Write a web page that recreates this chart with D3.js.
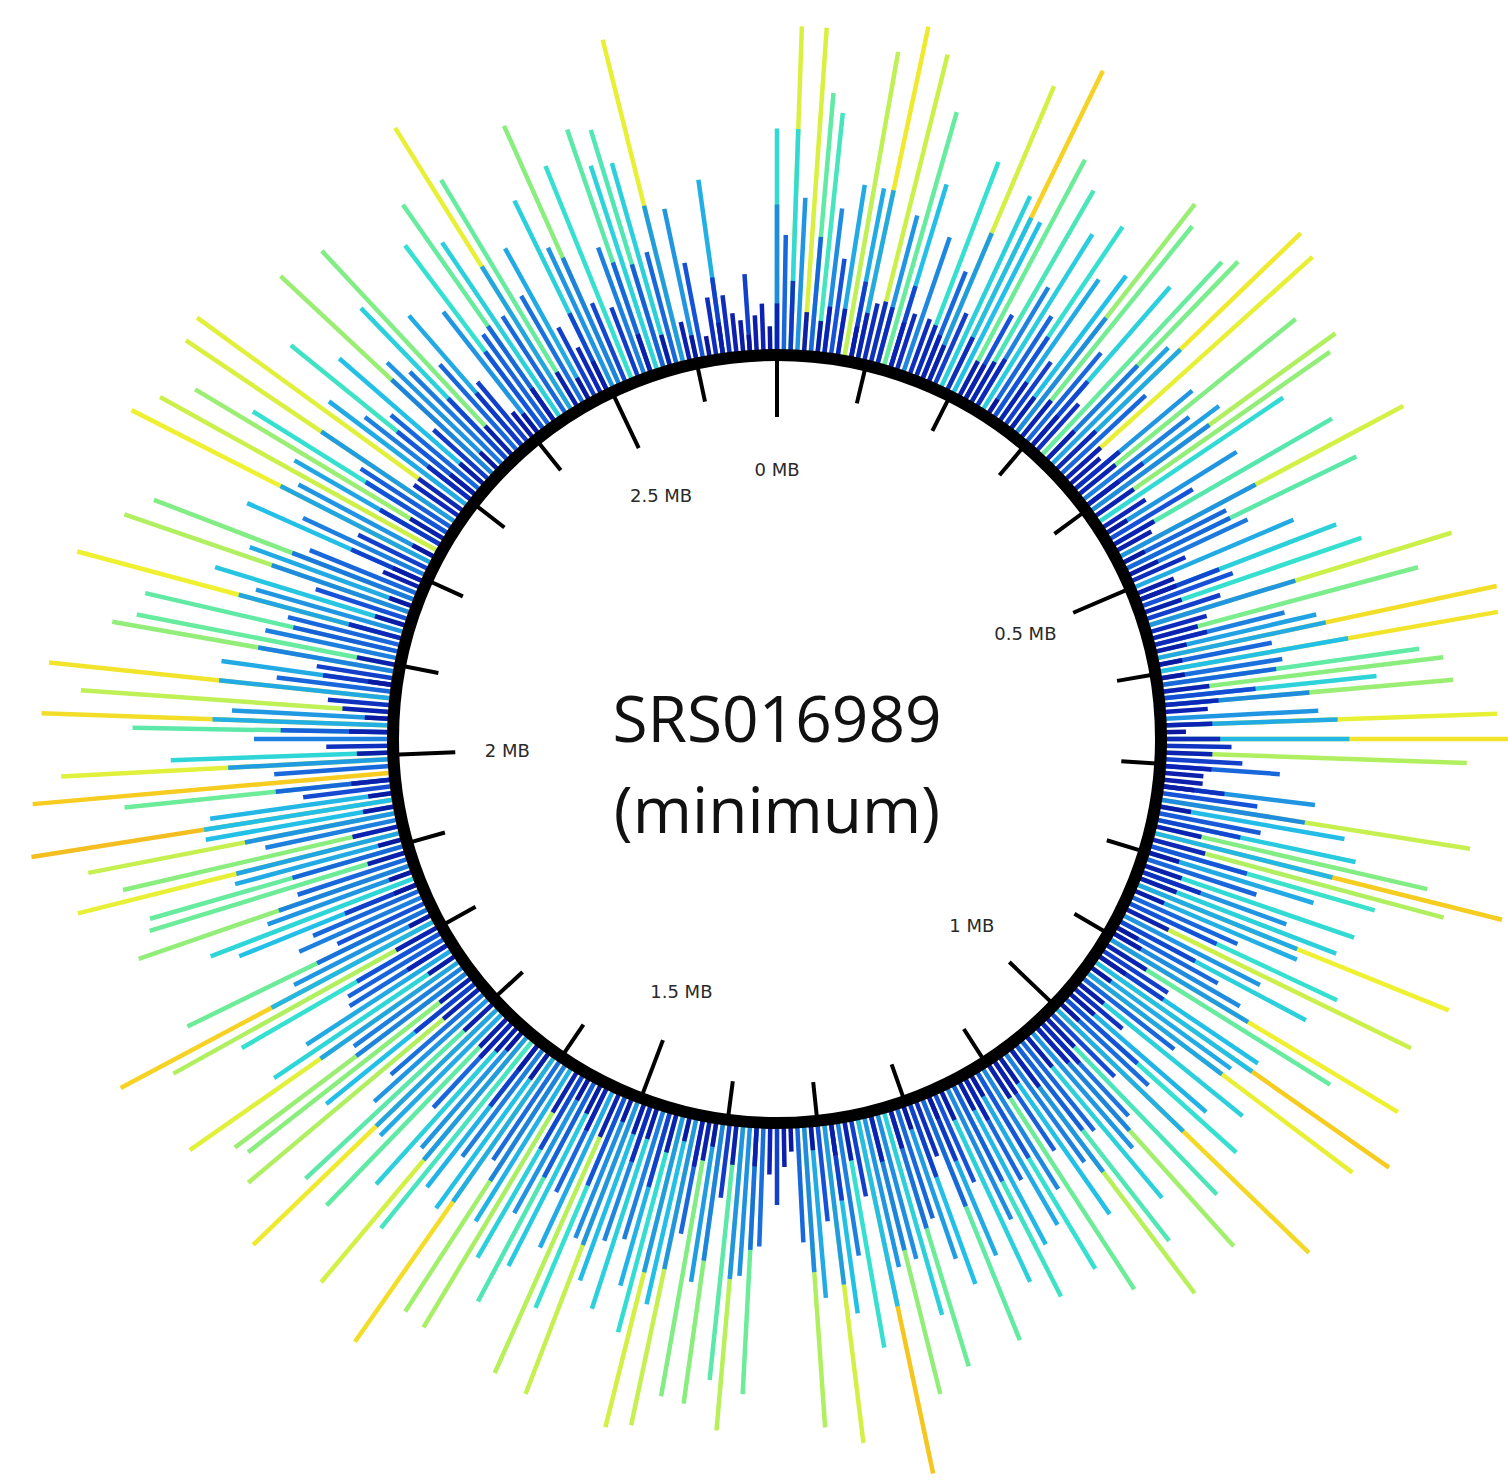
<!DOCTYPE html>
<html><head><meta charset="utf-8">
<script src="https://cdn.jsdelivr.net/npm/d3@7"></script>
<style>html,body{margin:0;padding:0;background:#fff;} svg{display:block}</style>
</head><body>
<svg id="chart" width="1508" height="1483"></svg>
<script>
// One value per angular bin (360 bins around the genome).
const depthLong = [
58,30,85,40,85,68,63,38,25,45,
81,45,89,15,83,40,69,50,15,37,
15,60,30,84,20,55,93,50,70,25,
64,36,54,30,60,45,20,50,76,71,
30,55,16,69,72,43,89,30,87,10,
40,73,35,43,79,75,58,13,40,25,
66,10,84,30,67,34,15,45,10,55,
25,60,20,83,15,72,35,43,91,30,
90,32,68,74,56,76,11,40,87,5,
90,17,79,20,30,10,10,40,25,82,
49,27,53,73,94,79,61,45,30,58,
40,55,88,46,30,60,83,40,55,30,
38,88,69,20,50,94,45,87,30,55,
16,47,60,31,92,23,64,33,77,40,
55,30,65,80,35,50,28,70,37,60,
45,30,48,62,38,55,25,45,68,15,
50,42,30,70,55,39,75,40,95,20,
60,35,50,84,25,45,79,30,6,10,
20,12,31,70,39,80,67,19,74,42,
73,30,82,50,84,59,47,35,55,37,
49,82,39,60,80,45,30,53,65,40,
55,78,47,77,31,91,50,35,47,63,
84,40,55,30,68,45,89,67,40,32,
79,50,74,76,35,86,57,45,30,29,
60,79,93,40,70,25,35,30,50,57,
40,75,30,70,69,45,87,74,35,82,
50,96,48,23,70,94,30,86,57,16,
35,67,91,41,81,16,90,30,45,20,
75,69,35,68,30,88,40,52,25,79,
45,73,30,10,50,35,20,88,40,83,
44,76,60,28,85,14,86,45,35,62,
30,50,19,76,40,34,55,73,30,45,
20,8,40,60,29,69,55,30,87,69,
32,45,20,13,55,40,74,22,60,19,
35,67,56,65,55,30,87,10,40,25,
5,15,46,15,10,8,20,9,12,6
];
const depthMid = [
38,0,58,0,0,30,0,12,0,0,
0,20,45,0,0,15,0,22,0,0,
0,0,12,42,0,0,50,0,0,10,
0,14,0,0,25,0,0,0,38,0,
0,22,0,0,34,0,45,0,0,0,
15,0,0,18,38,0,0,0,0,0,
0,0,40,0,30,0,0,0,0,22,
0,0,0,40,0,0,14,0,45,0,
50,0,30,0,24,38,0,0,45,0,
48,0,0,0,12,0,0,16,0,38,
0,0,22,0,48,0,26,0,0,0,
16,0,45,0,0,25,0,0,22,0,
0,42,0,0,20,50,0,44,0,0,
0,0,25,0,46,0,0,14,36,0,
0,0,28,40,0,0,10,0,0,26,
0,12,0,28,0,0,0,18,30,0,
20,0,0,32,0,0,36,0,50,0,
0,0,20,42,0,0,38,0,0,0,
0,0,0,32,0,40,0,0,36,0,
0,12,40,0,42,0,20,0,0,15,
0,40,0,25,0,0,12,0,28,0,
22,0,0,36,0,46,0,0,20,0,
42,0,0,12,0,0,44,0,0,0,
0,20,0,36,0,44,0,0,12,0,
25,0,48,0,32,0,0,0,20,0,
0,36,0,0,30,0,44,0,0,40,
0,50,0,0,30,0,0,42,0,0,
0,28,46,0,0,0,45,0,18,0,
36,0,0,28,0,44,0,0,0,38,
0,34,0,0,20,0,0,44,0,0,
18,0,25,0,42,0,0,0,14,26,
0,0,0,36,0,0,22,0,0,18,
0,0,0,25,0,30,0,0,44,0,
0,0,0,0,22,0,36,0,0,0,
0,30,0,28,0,0,42,0,0,0,
0,0,20,0,0,0,0,0,0,0
];
const depthBase = [
12,0,18,0,10,0,8,0,0,12,
0,8,12,0,16,0,0,12,0,0,
0,14,0,10,0,0,15,0,10,0,
12,0,0,4,0,12,0,10,0,12,
0,10,0,0,10,0,14,0,12,0,
0,12,0,10,0,12,0,0,6,0,
12,0,0,6,0,8,0,0,0,10,
0,10,0,0,0,12,0,8,0,6,
0,6,0,12,0,14,0,0,12,0,
14,0,12,0,0,0,0,8,0,0,
8,0,0,12,0,14,0,8,0,10,
0,10,0,8,0,0,12,0,0,6,
8,0,12,0,8,0,6,0,0,8,
0,8,0,6,0,0,10,0,12,0,
10,0,0,12,0,8,0,10,0,0,
6,0,8,0,0,8,0,6,0,0,
0,6,0,10,0,0,12,0,0,0,
10,0,8,0,0,6,0,0,0,0,
0,0,0,10,0,0,10,0,0,6,
10,0,0,6,0,10,0,0,8,0,
8,0,6,0,12,0,0,8,0,6,
0,12,0,0,0,0,8,0,8,0,
0,6,8,0,10,0,0,10,0,0,
12,0,10,0,0,0,8,0,0,0,
0,12,0,6,0,0,0,0,6,0,
6,0,0,10,0,6,0,12,0,0,
8,0,6,0,10,0,0,0,8,0,
0,10,0,6,12,0,0,0,6,0,
0,10,0,0,0,14,0,8,0,0,
6,0,0,0,8,0,0,0,6,0,
0,10,0,0,0,0,14,0,0,8,
0,8,0,0,6,0,0,10,0,0,
0,0,6,0,0,10,0,0,0,10,
0,6,0,0,8,0,0,0,0,0,
0,10,0,0,8,0,0,0,6,0,
0,0,8,0,0,0,4,0,0,0
];
const genomeLengthMB = 2.69;
const tickPositionsMB = [0,0.1,0.2,0.3,0.4,0.5,0.6,0.7,0.8,0.9,1.0,1.1,1.2,1.3,1.4,1.5,1.6,1.7,1.8,1.9,2.0,2.1,2.2,2.3,2.4,2.5,2.6];
const labelPositionsMB = [0,0.5,1,1.5,2,2.5];
const labelTexts = ["0 MB","0.5 MB","1 MB","1.5 MB","2 MB","2.5 MB"];
const titleLines = ["SRS016989","(minimum)"];
const colorStops = [0,12,25,38,50,60,70,80,88,94,100];
const colorValues = ["#0a0f8c","#0c22b4","#1652d8","#1f8ce0","#22c0e6","#35e0d0","#6cec98","#b8f05a","#eef030","#f6cc20","#f0a020"];

const cx = 777, cy = 739, ringR = 384;
const svg = d3.select("#chart");
const g = svg.append("g").attr("transform", `translate(${cx},${cy})`);

const nBins = depthLong.length;
const binIndex = d3.range(nBins);
const angle = d3.scaleLinear().domain([0, nBins]).range([0, 2 * Math.PI]);
const genomeAngle = d3.scaleLinear().domain([0, genomeLengthMB]).range([0, 2 * Math.PI]);
const radius = d3.scaleLinear().domain([0, 100]).range([390, 770]);
const color = d3.scaleLinear().domain(colorStops).range(colorValues).interpolate(d3.interpolateRgb).clamp(true);

[depthLong, depthMid, depthBase].forEach(series => {
  g.append("g").selectAll("line")
    .data(binIndex.filter(i => series[i] > 0))
    .join("line")
    .attr("x1", i => d3.pointRadial(angle(i), ringR)[0])
    .attr("y1", i => d3.pointRadial(angle(i), ringR)[1])
    .attr("x2", i => d3.pointRadial(angle(i), radius(series[i]))[0])
    .attr("y2", i => d3.pointRadial(angle(i), radius(series[i]))[1])
    .attr("stroke", i => color(series[i]))
    .attr("stroke-width", 4.5)
    .attr("stroke-linecap", "butt");
});

// ring
g.append("circle").attr("r", ringR).attr("fill", "none").attr("stroke", "#000").attr("stroke-width", 12);

// ticks
const isMajor = v => labelPositionsMB.some(m => Math.abs(m - v) < 1e-6);
g.append("g").selectAll("line").data(tickPositionsMB).join("line")
  .attr("x1", d => d3.pointRadial(genomeAngle(d), ringR)[0])
  .attr("y1", d => d3.pointRadial(genomeAngle(d), ringR)[1])
  .attr("x2", d => d3.pointRadial(genomeAngle(d), isMajor(d) ? 322 : 345)[0])
  .attr("y2", d => d3.pointRadial(genomeAngle(d), isMajor(d) ? 322 : 345)[1])
  .attr("stroke", "#000").attr("stroke-width", 4);

// tick labels
g.append("g").selectAll("text").data(labelPositionsMB).join("text")
  .attr("x", d => d3.pointRadial(genomeAngle(d), 270)[0])
  .attr("y", d => d3.pointRadial(genomeAngle(d), 270)[1])
  .attr("text-anchor", "middle").attr("dominant-baseline", "central")
  .attr("font-family", "DejaVu Sans, sans-serif").attr("font-size", 18)
  .attr("fill", "#2a2a2a")
  .text((d, i) => labelTexts[i]);

// title
svg.append("g").selectAll("text").data(titleLines).join("text")
  .attr("x", cx).attr("y", (d, i) => i === 0 ? 742 : 833)
  .attr("text-anchor", "middle")
  .attr("font-family", "Open Sans, sans-serif").attr("font-size", 64)
  .attr("fill", "#111")
  .text(d => d);
</script>
</body></html>
